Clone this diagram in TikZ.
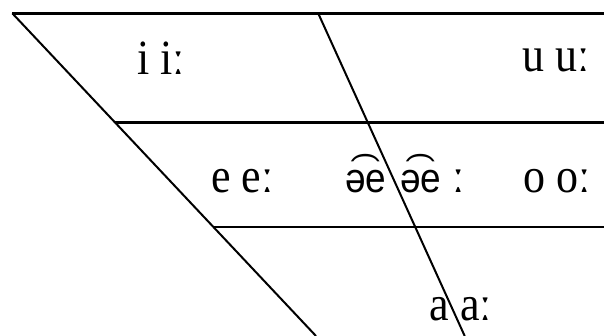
\documentclass[tikz,border=0pt]{standalone}
\usepackage{fontspec}
\usepackage{graphicx}
\setmainfont{Liberation Serif}
\newfontfamily\ipasans{Liberation Sans}
\newcommand{\tallx}[1]{\scalebox{1}[1.12]{#1}}
\begin{document}
\begin{tikzpicture}[x=1pt,y=-1pt,
  lbl/.style={anchor=base west,inner sep=0pt,font=\fontsize{44}{50}\selectfont},
  slbl/.style={anchor=base west,inner sep=0pt,font=\ipasans\fontsize{37}{42}\selectfont},
  rule/.style={draw=black,line width=#1}]
\useasboundingbox (0,0) rectangle (604,336);
\coordinate (tl) at (12.3,13.3);
\coordinate (tm) at (318.2,13.3);
\coordinate (tr) at (604,13.3);
\coordinate (l2) at (115.3,122.7);
\coordinate (r2) at (604,122.7);
\coordinate (l3) at (213.1,226.7);
\coordinate (r3) at (604,226.7);
\coordinate (bl) at (316,336);
\coordinate (bm) at (464.7,336);
\draw[rule=3.5pt] (tl) -- (tr);
\draw[rule=2.5pt] (l2) -- (r2);
\draw[rule=2pt] (l3) -- (r3);
\draw[rule=2pt] (tl) -- (bl);
\draw[rule=2pt] (tm) -- (bm);
\node[lbl] (ii) at (137,75) {\tallx{i iː}};
\node[lbl] (uu) at (522,72) {\tallx{u uː}};
\node[lbl] (ee) at (211,193) {\tallx{e eː}};
\node[slbl] (ae1) at (345,193) {\tallx{ə͡e}};
\node[slbl] (ae2) at (400,193) {\tallx{ə͡e}};
\node[lbl] (len) at (ae2.base east) [anchor=base west] {\tallx{\ ː}};
\node[lbl] (oo) at (523,193) {\tallx{o oː}};
\node[lbl] (aa) at (429.5,320) {\tallx{a aː}};
\end{tikzpicture}
\end{document}
